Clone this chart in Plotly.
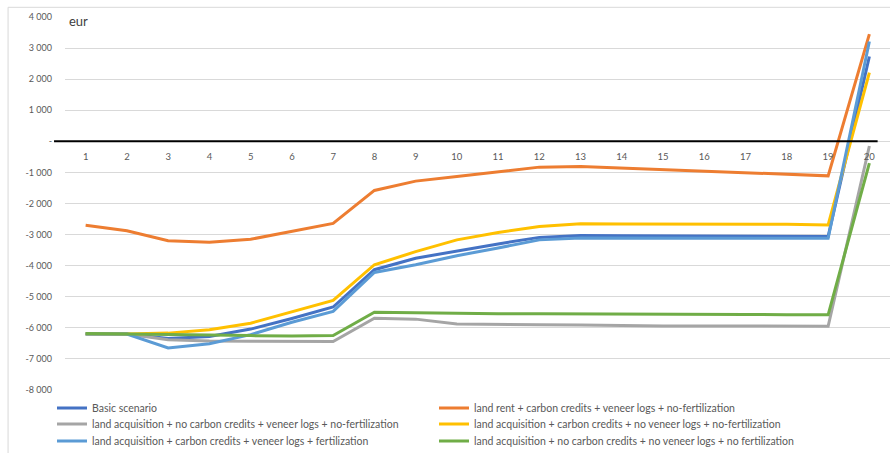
import plotly.graph_objects as go

years = list(range(1, 21))

basic = [-6200, -6200, -6340, -6280, -6040, -5700, -5330, -4130, -3760, -3520,
         -3300, -3090, -3030, -3040, -3040, -3050, -3050, -3060, -3060, 2730]
land_rent = [-2700, -2880, -3200, -3250, -3150, -2900, -2640, -1580, -1280, -1130,
             -970, -830, -810, -860, -920, -980, -1030, -1070, -1110, 3450]
acq_nocc_veneer = [-6200, -6200, -6380, -6420, -6430, -6440, -6440, -5690, -5720, -5880,
                   -5900, -5900, -5910, -5930, -5940, -5940, -5940, -5950, -5950, -150]
acq_cc_noveneer = [-6200, -6200, -6170, -6060, -5850, -5480, -5120, -3970, -3550, -3170,
                   -2930, -2740, -2650, -2660, -2660, -2660, -2660, -2670, -2690, 2210]
acq_cc_veneer_fert = [-6200, -6200, -6650, -6510, -6220, -5820, -5470, -4220, -3970, -3680,
                      -3430, -3170, -3110, -3110, -3110, -3120, -3120, -3120, -3120, 3210]
acq_nocc_noveneer = [-6180, -6200, -6230, -6240, -6250, -6260, -6250, -5500, -5520, -5530,
                     -5550, -5550, -5550, -5560, -5560, -5570, -5570, -5580, -5580, -700]

# (name, values, colour)
series = [
    ("Basic scenario", basic, "#4472C4"),
    ("land rent + carbon credits + veneer logs + no-fertilization", land_rent, "#ED7D31"),
    ("land acquisition + no carbon credits + veneer logs + no-fertilization", acq_nocc_veneer, "#A5A5A5"),
    ("land acquisition + carbon credits + no veneer logs + no-fertilization", acq_cc_noveneer, "#FFC000"),
    ("land acquisition + carbon credits + veneer logs + fertilization", acq_cc_veneer_fert, "#5B9BD5"),
    ("land acquisition + no carbon credits + no veneer logs + no fertilization", acq_nocc_noveneer, "#70AD47"),
]

y_ticks = [-8000, -7000, -6000, -5000, -4000, -3000, -2000, -1000, 0, 1000, 2000, 3000, 4000]
y_tick_text = ["-8 000", "-7 000", "-6 000", "-5 000", "-4 000", "-3 000", "-2 000",
               "-1 000", "-", "1 000", "2 000", "3 000", "4 000"]

FONT = "Lato, 'Liberation Sans', sans-serif"
TEXT = "#595959"
W, H = 890, 453
M_L, M_R, M_T, M_B = 65, 0, 17, 63
PLOT_W, PLOT_H = W - M_L - M_R, H - M_T - M_B

# legend grid: two columns, three rows below the plot (pixel positions)
LEG_COLS = [52, 434]
LEG_ROWS = [408, 424, 441]

fig = go.Figure()
layout_legends = {}
for i, (name, vals, color) in enumerate(series):
    key = "legend" if i == 0 else f"legend{i + 1}"
    row, col = divmod(i, 2)
    layout_legends[key] = dict(
        orientation="h",
        x=(LEG_COLS[col] - M_L) / PLOT_W, y=(H - M_B - LEG_ROWS[row]) / PLOT_H,
        xanchor="left", yanchor="middle",
        font=dict(family=FONT, size=10.5, color=TEXT),
        itemwidth=30, bgcolor="rgba(0,0,0,0)",
    )
    fig.add_trace(go.Scatter(
        x=years, y=vals, name=name, mode="lines",
        line=dict(color=color, width=3), legend=key,
    ))

y_min, y_max = -8000, 4000

fig.update_layout(
    width=W, height=H,
    margin=dict(l=M_L, r=M_R, t=M_T, b=M_B, autoexpand=False),
    paper_bgcolor="white", plot_bgcolor="white",
    font=dict(family=FONT, size=9, color=TEXT),
    showlegend=True,
    **layout_legends,
    xaxis=dict(
        range=[0.5, 20.5], tickmode="array", tickvals=years,
        ticktext=[str(v) for v in years],
        showgrid=False, zeroline=False, showline=False, ticks="",
        anchor="free", position=(0 - y_min) / (y_max - y_min),
        side="bottom", ticklabelstandoff=8,
        tickfont=dict(family=FONT, size=9.5, color=TEXT),
    ),
    yaxis=dict(
        range=[y_min, y_max], tickmode="array", tickvals=y_ticks, ticktext=y_tick_text,
        showgrid=True, gridcolor="#D9D9D9", gridwidth=1,
        zeroline=False, showline=False, ticks="",
        ticklabelstandoff=12,
        tickfont=dict(family=FONT, size=9, color=TEXT),
    ),
    annotations=[dict(
        text="eur", xref="paper", yref="paper", x=0.003, y=0.988,
        xanchor="left", yanchor="middle", showarrow=False,
        font=dict(family=FONT, size=13, color="#404040"),
    )],
    shapes=[
        # horizontal category axis at zero
        dict(type="line", xref="x domain", yref="y", x0=-0.0133, x1=0.985, y0=0, y1=0,
             line=dict(color="black", width=2), layer="above"),
        # chart area border
        dict(type="rect", xref="paper", yref="paper", x0=-0.069, x1=1.1, y0=-0.3, y1=1.026,
             line=dict(color="#D9D9D9", width=1), layer="below"),
    ],
)

fig.write_html("out.html")
